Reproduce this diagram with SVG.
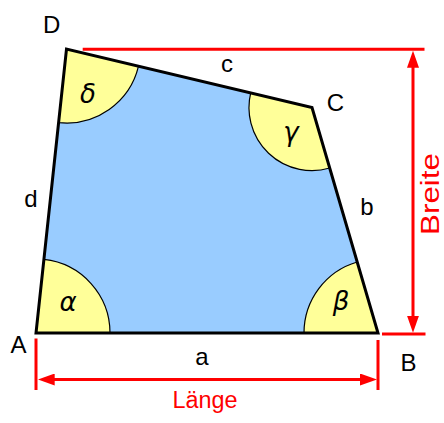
<svg xmlns="http://www.w3.org/2000/svg" width="444" height="423" viewBox="0 0 444 423">
  <style>
    .lbl { font-family: "Liberation Sans", "DejaVu Sans", sans-serif; font-size: 24px; fill: #000; text-anchor: middle; }
    .greek { font-family: "DejaVu Sans", "Liberation Sans", sans-serif; font-size: 26px; font-style: italic; fill: #000; text-anchor: middle; }
    .red { font-family: "Liberation Sans", "DejaVu Sans", sans-serif; fill: #ff0000; text-anchor: middle; }
    .dim { stroke: #ff0000; stroke-width: 3; fill: none; }
    .sector { fill: #ffff99; stroke: #000; stroke-width: 1.2; }
  </style>
  <defs>
    <marker id="arr" viewBox="-17 -6 17 12" markerWidth="17" markerHeight="12" refX="-10" refY="0" orient="auto-start-reverse" markerUnits="userSpaceOnUse">
      <path d="M0,0 L-17,-6 L-17,6 Z" fill="#ff0000"/>
    </marker>
  </defs>
  <rect width="444" height="423" fill="#ffffff"/>

  <g id="quad-fill">
    <polygon points="36,333 378,333 312,107.5 66.5,49" fill="#99ccff"/>
  </g>

  <g id="angles">
    <path id="alpha" class="sector" d="M36,333 L110,333 A74,74 0 0 0 43.9,259.4 Z"/>
    <path id="beta" class="sector" d="M378,333 L304,333 A74,74 0 0 1 357.2,262 Z"/>
    <path id="gamma" class="sector" d="M312,107.5 L329.7,168 A63,63 0 0 1 250.7,92.9 Z"/>
    <path id="delta" class="sector" d="M66.5,49 L138.5,66.2 A74,74 0 0 1 58.6,122.6 Z"/>
  </g>

  <g id="quad-outline">
    <polygon points="36,333 378,333 312,107.5 66.5,49" fill="none" stroke="#000" stroke-width="3" stroke-linejoin="miter"/>
  </g>

  <g id="connectors">
    <line class="dim" x1="82.7" y1="49.3" x2="424.5" y2="49.3"/>
    <line class="dim" x1="382" y1="334" x2="425.5" y2="334"/>
    <line class="dim" x1="413" y1="60.7" x2="413" y2="322.7" marker-start="url(#arr)" marker-end="url(#arr)"/>
    <line class="dim" x1="36" y1="338.5" x2="36" y2="390"/>
    <line class="dim" x1="378" y1="340" x2="378" y2="390"/>
    <line class="dim" x1="47.7" y1="379.5" x2="367" y2="379.5" marker-start="url(#arr)" marker-end="url(#arr)"/>
  </g>

  <g id="vertex-labels">
    <text class="lbl" x="51.7" y="33">D</text>
    <text class="lbl" x="335.5" y="110.5">C</text>
    <text class="lbl" x="18.5" y="353">A</text>
    <text class="lbl" x="408.5" y="371">B</text>
  </g>

  <g id="side-labels">
    <text class="lbl" x="227" y="72">c</text>
    <text class="lbl" x="31" y="206.5">d</text>
    <text class="lbl" x="367" y="215">b</text>
    <text class="lbl" x="202" y="365">a</text>
  </g>

  <g id="angle-labels">
    <text class="greek" x="88" y="103">δ</text>
    <text class="greek" x="291" y="141">γ</text>
    <text class="greek" x="68" y="311">α</text>
    <text class="greek" x="341" y="310">β</text>
  </g>

  <g id="dimension-labels">
    <text class="red" x="205" y="408" font-size="23" textLength="65" lengthAdjust="spacingAndGlyphs">Länge</text>
    <text class="red" transform="translate(439,194) rotate(-90)" x="0" y="0" font-size="26" textLength="82" lengthAdjust="spacingAndGlyphs">Breite</text>
  </g>
</svg>
